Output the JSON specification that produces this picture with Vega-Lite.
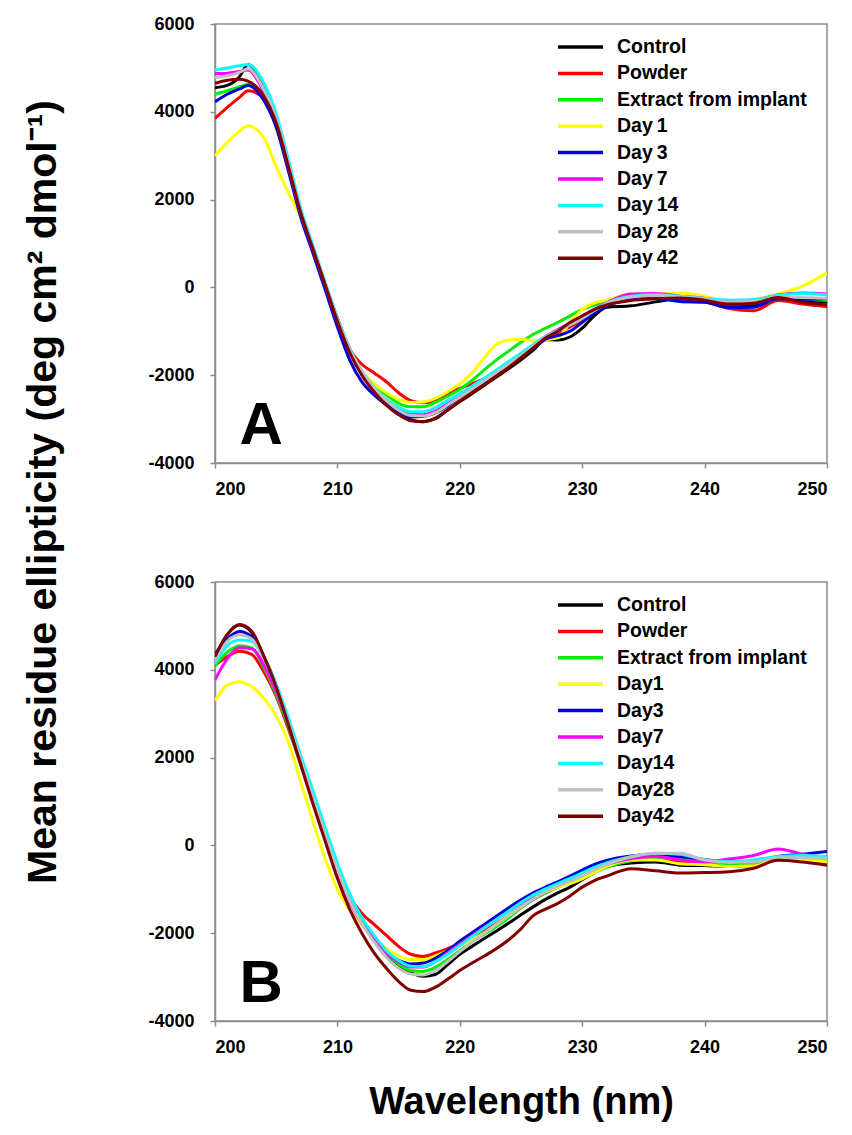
{
  "$schema": "https://vega.github.io/schema/vega-lite/v6.json",
  "padding": {"left": 23, "top": 14, "right": 20, "bottom": 10},
  "background": "white",
  "title": {"text": "Mean residue ellipticity (deg cm² dmol⁻¹)", "orient": "left", "anchor": "middle", "fontSize": 41, "fontWeight": "bold", "font": "Liberation Sans", "color": "#000000", "offset": 82, "dx": 76},
  "data": {"values": [
{"p":"A","s":"Control","w":200,"v":4550},{"p":"A","s":"Control","w":201,"v":4600},{"p":"A","s":"Control","w":202,"v":4800},{"p":"A","s":"Control","w":202.7,"v":5080},{"p":"A","s":"Control","w":204,"v":4550},{"p":"A","s":"Control","w":205,"v":3850},{"p":"A","s":"Control","w":206,"v":2800},{"p":"A","s":"Control","w":207,"v":1720},{"p":"A","s":"Control","w":208,"v":900},{"p":"A","s":"Control","w":209,"v":80},{"p":"A","s":"Control","w":210,"v":-720},{"p":"A","s":"Control","w":211,"v":-1400},{"p":"A","s":"Control","w":212,"v":-1920},{"p":"A","s":"Control","w":213,"v":-2300},{"p":"A","s":"Control","w":214,"v":-2600},{"p":"A","s":"Control","w":215,"v":-2850},{"p":"A","s":"Control","w":216,"v":-3020},{"p":"A","s":"Control","w":217,"v":-3060},{"p":"A","s":"Control","w":218,"v":-2990},{"p":"A","s":"Control","w":219,"v":-2800},{"p":"A","s":"Control","w":220,"v":-2600},{"p":"A","s":"Control","w":221,"v":-2420},{"p":"A","s":"Control","w":222,"v":-2230},{"p":"A","s":"Control","w":223,"v":-2040},{"p":"A","s":"Control","w":224,"v":-1850},{"p":"A","s":"Control","w":225,"v":-1650},{"p":"A","s":"Control","w":226,"v":-1430},{"p":"A","s":"Control","w":227,"v":-1190},{"p":"A","s":"Control","w":228,"v":-1200},{"p":"A","s":"Control","w":229,"v":-1130},{"p":"A","s":"Control","w":230,"v":-930},{"p":"A","s":"Control","w":231,"v":-640},{"p":"A","s":"Control","w":232,"v":-450},{"p":"A","s":"Control","w":234,"v":-420},{"p":"A","s":"Control","w":236,"v":-330},{"p":"A","s":"Control","w":238,"v":-260},{"p":"A","s":"Control","w":240,"v":-300},{"p":"A","s":"Control","w":242,"v":-410},{"p":"A","s":"Control","w":244,"v":-420},{"p":"A","s":"Control","w":246,"v":-260},{"p":"A","s":"Control","w":248,"v":-320},{"p":"A","s":"Control","w":250,"v":-330},
{"p":"A","s":"Powder","w":200,"v":3850},{"p":"A","s":"Powder","w":201,"v":4100},{"p":"A","s":"Powder","w":202,"v":4330},{"p":"A","s":"Powder","w":202.7,"v":4480},{"p":"A","s":"Powder","w":204,"v":4300},{"p":"A","s":"Powder","w":205,"v":3700},{"p":"A","s":"Powder","w":206,"v":2700},{"p":"A","s":"Powder","w":207,"v":1650},{"p":"A","s":"Powder","w":208,"v":850},{"p":"A","s":"Powder","w":209,"v":50},{"p":"A","s":"Powder","w":210,"v":-700},{"p":"A","s":"Powder","w":211,"v":-1400},{"p":"A","s":"Powder","w":212,"v":-1750},{"p":"A","s":"Powder","w":213,"v":-1950},{"p":"A","s":"Powder","w":214,"v":-2150},{"p":"A","s":"Powder","w":215,"v":-2400},{"p":"A","s":"Powder","w":216,"v":-2580},{"p":"A","s":"Powder","w":217,"v":-2630},{"p":"A","s":"Powder","w":218,"v":-2580},{"p":"A","s":"Powder","w":219,"v":-2420},{"p":"A","s":"Powder","w":220,"v":-2300},{"p":"A","s":"Powder","w":221,"v":-2200},{"p":"A","s":"Powder","w":222,"v":-2080},{"p":"A","s":"Powder","w":223,"v":-1920},{"p":"A","s":"Powder","w":224,"v":-1740},{"p":"A","s":"Powder","w":225,"v":-1560},{"p":"A","s":"Powder","w":226,"v":-1370},{"p":"A","s":"Powder","w":227,"v":-1180},{"p":"A","s":"Powder","w":228,"v":-1030},{"p":"A","s":"Powder","w":229,"v":-900},{"p":"A","s":"Powder","w":230,"v":-740},{"p":"A","s":"Powder","w":231,"v":-560},{"p":"A","s":"Powder","w":232,"v":-400},{"p":"A","s":"Powder","w":234,"v":-250},{"p":"A","s":"Powder","w":236,"v":-170},{"p":"A","s":"Powder","w":238,"v":-260},{"p":"A","s":"Powder","w":240,"v":-330},{"p":"A","s":"Powder","w":242,"v":-480},{"p":"A","s":"Powder","w":244,"v":-530},{"p":"A","s":"Powder","w":246,"v":-300},{"p":"A","s":"Powder","w":248,"v":-380},{"p":"A","s":"Powder","w":250,"v":-440},
{"p":"A","s":"Extract from implant","w":200,"v":4400},{"p":"A","s":"Extract from implant","w":201,"v":4480},{"p":"A","s":"Extract from implant","w":202,"v":4570},{"p":"A","s":"Extract from implant","w":202.7,"v":4620},{"p":"A","s":"Extract from implant","w":204,"v":4350},{"p":"A","s":"Extract from implant","w":205,"v":3750},{"p":"A","s":"Extract from implant","w":206,"v":2750},{"p":"A","s":"Extract from implant","w":207,"v":1700},{"p":"A","s":"Extract from implant","w":208,"v":880},{"p":"A","s":"Extract from implant","w":209,"v":60},{"p":"A","s":"Extract from implant","w":210,"v":-760},{"p":"A","s":"Extract from implant","w":211,"v":-1450},{"p":"A","s":"Extract from implant","w":212,"v":-1930},{"p":"A","s":"Extract from implant","w":213,"v":-2220},{"p":"A","s":"Extract from implant","w":214,"v":-2450},{"p":"A","s":"Extract from implant","w":215,"v":-2640},{"p":"A","s":"Extract from implant","w":216,"v":-2720},{"p":"A","s":"Extract from implant","w":217,"v":-2720},{"p":"A","s":"Extract from implant","w":218,"v":-2620},{"p":"A","s":"Extract from implant","w":219,"v":-2480},{"p":"A","s":"Extract from implant","w":220,"v":-2320},{"p":"A","s":"Extract from implant","w":221,"v":-2120},{"p":"A","s":"Extract from implant","w":222,"v":-1880},{"p":"A","s":"Extract from implant","w":223,"v":-1650},{"p":"A","s":"Extract from implant","w":224,"v":-1450},{"p":"A","s":"Extract from implant","w":225,"v":-1250},{"p":"A","s":"Extract from implant","w":226,"v":-1070},{"p":"A","s":"Extract from implant","w":227,"v":-930},{"p":"A","s":"Extract from implant","w":228,"v":-800},{"p":"A","s":"Extract from implant","w":229,"v":-650},{"p":"A","s":"Extract from implant","w":230,"v":-500},{"p":"A","s":"Extract from implant","w":231,"v":-400},{"p":"A","s":"Extract from implant","w":232,"v":-330},{"p":"A","s":"Extract from implant","w":234,"v":-200},{"p":"A","s":"Extract from implant","w":236,"v":-170},{"p":"A","s":"Extract from implant","w":238,"v":-220},{"p":"A","s":"Extract from implant","w":240,"v":-280},{"p":"A","s":"Extract from implant","w":242,"v":-380},{"p":"A","s":"Extract from implant","w":244,"v":-350},{"p":"A","s":"Extract from implant","w":246,"v":-220},{"p":"A","s":"Extract from implant","w":248,"v":-260},{"p":"A","s":"Extract from implant","w":250,"v":-300},
{"p":"A","s":"Day1","w":200,"v":3000},{"p":"A","s":"Day1","w":201,"v":3300},{"p":"A","s":"Day1","w":202,"v":3560},{"p":"A","s":"Day1","w":202.7,"v":3680},{"p":"A","s":"Day1","w":204,"v":3400},{"p":"A","s":"Day1","w":205,"v":2750},{"p":"A","s":"Day1","w":206,"v":2150},{"p":"A","s":"Day1","w":207,"v":1600},{"p":"A","s":"Day1","w":208,"v":870},{"p":"A","s":"Day1","w":209,"v":60},{"p":"A","s":"Day1","w":210,"v":-760},{"p":"A","s":"Day1","w":211,"v":-1430},{"p":"A","s":"Day1","w":212,"v":-1900},{"p":"A","s":"Day1","w":213,"v":-2200},{"p":"A","s":"Day1","w":214,"v":-2400},{"p":"A","s":"Day1","w":215,"v":-2550},{"p":"A","s":"Day1","w":216,"v":-2620},{"p":"A","s":"Day1","w":217,"v":-2610},{"p":"A","s":"Day1","w":218,"v":-2530},{"p":"A","s":"Day1","w":219,"v":-2380},{"p":"A","s":"Day1","w":220,"v":-2200},{"p":"A","s":"Day1","w":221,"v":-1950},{"p":"A","s":"Day1","w":222,"v":-1600},{"p":"A","s":"Day1","w":223,"v":-1300},{"p":"A","s":"Day1","w":224,"v":-1200},{"p":"A","s":"Day1","w":225,"v":-1180},{"p":"A","s":"Day1","w":226,"v":-1220},{"p":"A","s":"Day1","w":227,"v":-1190},{"p":"A","s":"Day1","w":228,"v":-1150},{"p":"A","s":"Day1","w":229,"v":-800},{"p":"A","s":"Day1","w":230,"v":-500},{"p":"A","s":"Day1","w":231,"v":-350},{"p":"A","s":"Day1","w":232,"v":-290},{"p":"A","s":"Day1","w":234,"v":-150},{"p":"A","s":"Day1","w":236,"v":-160},{"p":"A","s":"Day1","w":238,"v":-130},{"p":"A","s":"Day1","w":240,"v":-200},{"p":"A","s":"Day1","w":242,"v":-330},{"p":"A","s":"Day1","w":244,"v":-280},{"p":"A","s":"Day1","w":246,"v":-150},{"p":"A","s":"Day1","w":248,"v":30},{"p":"A","s":"Day1","w":250,"v":330},
{"p":"A","s":"Day3","w":200,"v":4230},{"p":"A","s":"Day3","w":201,"v":4400},{"p":"A","s":"Day3","w":202,"v":4520},{"p":"A","s":"Day3","w":202.7,"v":4600},{"p":"A","s":"Day3","w":204,"v":4250},{"p":"A","s":"Day3","w":205,"v":3650},{"p":"A","s":"Day3","w":206,"v":2650},{"p":"A","s":"Day3","w":207,"v":1600},{"p":"A","s":"Day3","w":208,"v":780},{"p":"A","s":"Day3","w":209,"v":-50},{"p":"A","s":"Day3","w":210,"v":-900},{"p":"A","s":"Day3","w":211,"v":-1650},{"p":"A","s":"Day3","w":212,"v":-2150},{"p":"A","s":"Day3","w":213,"v":-2450},{"p":"A","s":"Day3","w":214,"v":-2680},{"p":"A","s":"Day3","w":215,"v":-2870},{"p":"A","s":"Day3","w":216,"v":-2950},{"p":"A","s":"Day3","w":217,"v":-2940},{"p":"A","s":"Day3","w":218,"v":-2860},{"p":"A","s":"Day3","w":219,"v":-2700},{"p":"A","s":"Day3","w":220,"v":-2500},{"p":"A","s":"Day3","w":221,"v":-2330},{"p":"A","s":"Day3","w":222,"v":-2150},{"p":"A","s":"Day3","w":223,"v":-1960},{"p":"A","s":"Day3","w":224,"v":-1770},{"p":"A","s":"Day3","w":225,"v":-1580},{"p":"A","s":"Day3","w":226,"v":-1380},{"p":"A","s":"Day3","w":227,"v":-1180},{"p":"A","s":"Day3","w":228,"v":-1100},{"p":"A","s":"Day3","w":229,"v":-1000},{"p":"A","s":"Day3","w":230,"v":-800},{"p":"A","s":"Day3","w":231,"v":-580},{"p":"A","s":"Day3","w":232,"v":-420},{"p":"A","s":"Day3","w":234,"v":-280},{"p":"A","s":"Day3","w":236,"v":-250},{"p":"A","s":"Day3","w":238,"v":-320},{"p":"A","s":"Day3","w":240,"v":-340},{"p":"A","s":"Day3","w":242,"v":-460},{"p":"A","s":"Day3","w":244,"v":-450},{"p":"A","s":"Day3","w":246,"v":-260},{"p":"A","s":"Day3","w":248,"v":-270},{"p":"A","s":"Day3","w":250,"v":-250},
{"p":"A","s":"Day7","w":200,"v":4870},{"p":"A","s":"Day7","w":201,"v":4880},{"p":"A","s":"Day7","w":202,"v":4920},{"p":"A","s":"Day7","w":202.7,"v":4950},{"p":"A","s":"Day7","w":204,"v":4450},{"p":"A","s":"Day7","w":205,"v":3800},{"p":"A","s":"Day7","w":206,"v":2750},{"p":"A","s":"Day7","w":207,"v":1700},{"p":"A","s":"Day7","w":208,"v":880},{"p":"A","s":"Day7","w":209,"v":60},{"p":"A","s":"Day7","w":210,"v":-760},{"p":"A","s":"Day7","w":211,"v":-1450},{"p":"A","s":"Day7","w":212,"v":-1950},{"p":"A","s":"Day7","w":213,"v":-2300},{"p":"A","s":"Day7","w":214,"v":-2580},{"p":"A","s":"Day7","w":215,"v":-2780},{"p":"A","s":"Day7","w":216,"v":-2890},{"p":"A","s":"Day7","w":217,"v":-2900},{"p":"A","s":"Day7","w":218,"v":-2820},{"p":"A","s":"Day7","w":219,"v":-2650},{"p":"A","s":"Day7","w":220,"v":-2470},{"p":"A","s":"Day7","w":221,"v":-2280},{"p":"A","s":"Day7","w":222,"v":-2090},{"p":"A","s":"Day7","w":223,"v":-1900},{"p":"A","s":"Day7","w":224,"v":-1710},{"p":"A","s":"Day7","w":225,"v":-1520},{"p":"A","s":"Day7","w":226,"v":-1320},{"p":"A","s":"Day7","w":227,"v":-1120},{"p":"A","s":"Day7","w":228,"v":-960},{"p":"A","s":"Day7","w":229,"v":-820},{"p":"A","s":"Day7","w":230,"v":-680},{"p":"A","s":"Day7","w":231,"v":-500},{"p":"A","s":"Day7","w":232,"v":-350},{"p":"A","s":"Day7","w":234,"v":-150},{"p":"A","s":"Day7","w":236,"v":-140},{"p":"A","s":"Day7","w":238,"v":-200},{"p":"A","s":"Day7","w":240,"v":-250},{"p":"A","s":"Day7","w":242,"v":-330},{"p":"A","s":"Day7","w":244,"v":-300},{"p":"A","s":"Day7","w":246,"v":-170},{"p":"A","s":"Day7","w":248,"v":-130},{"p":"A","s":"Day7","w":250,"v":-150},
{"p":"A","s":"Day14","w":200,"v":4950},{"p":"A","s":"Day14","w":201,"v":5000},{"p":"A","s":"Day14","w":202,"v":5050},{"p":"A","s":"Day14","w":202.7,"v":5080},{"p":"A","s":"Day14","w":204,"v":4650},{"p":"A","s":"Day14","w":205,"v":3950},{"p":"A","s":"Day14","w":206,"v":2900},{"p":"A","s":"Day14","w":207,"v":1800},{"p":"A","s":"Day14","w":208,"v":950},{"p":"A","s":"Day14","w":209,"v":120},{"p":"A","s":"Day14","w":210,"v":-700},{"p":"A","s":"Day14","w":211,"v":-1400},{"p":"A","s":"Day14","w":212,"v":-1900},{"p":"A","s":"Day14","w":213,"v":-2280},{"p":"A","s":"Day14","w":214,"v":-2550},{"p":"A","s":"Day14","w":215,"v":-2730},{"p":"A","s":"Day14","w":216,"v":-2830},{"p":"A","s":"Day14","w":217,"v":-2830},{"p":"A","s":"Day14","w":218,"v":-2740},{"p":"A","s":"Day14","w":219,"v":-2580},{"p":"A","s":"Day14","w":220,"v":-2420},{"p":"A","s":"Day14","w":221,"v":-2250},{"p":"A","s":"Day14","w":222,"v":-2070},{"p":"A","s":"Day14","w":223,"v":-1880},{"p":"A","s":"Day14","w":224,"v":-1690},{"p":"A","s":"Day14","w":225,"v":-1500},{"p":"A","s":"Day14","w":226,"v":-1300},{"p":"A","s":"Day14","w":227,"v":-1120},{"p":"A","s":"Day14","w":228,"v":-980},{"p":"A","s":"Day14","w":229,"v":-850},{"p":"A","s":"Day14","w":230,"v":-700},{"p":"A","s":"Day14","w":231,"v":-520},{"p":"A","s":"Day14","w":232,"v":-360},{"p":"A","s":"Day14","w":234,"v":-200},{"p":"A","s":"Day14","w":236,"v":-170},{"p":"A","s":"Day14","w":238,"v":-200},{"p":"A","s":"Day14","w":240,"v":-250},{"p":"A","s":"Day14","w":242,"v":-290},{"p":"A","s":"Day14","w":244,"v":-280},{"p":"A","s":"Day14","w":246,"v":-180},{"p":"A","s":"Day14","w":248,"v":-140},{"p":"A","s":"Day14","w":250,"v":-170},
{"p":"A","s":"Day28","w":200,"v":4780},{"p":"A","s":"Day28","w":201,"v":4820},{"p":"A","s":"Day28","w":202,"v":4900},{"p":"A","s":"Day28","w":202.7,"v":4980},{"p":"A","s":"Day28","w":204,"v":4500},{"p":"A","s":"Day28","w":205,"v":3850},{"p":"A","s":"Day28","w":206,"v":2800},{"p":"A","s":"Day28","w":207,"v":1720},{"p":"A","s":"Day28","w":208,"v":900},{"p":"A","s":"Day28","w":209,"v":80},{"p":"A","s":"Day28","w":210,"v":-730},{"p":"A","s":"Day28","w":211,"v":-1420},{"p":"A","s":"Day28","w":212,"v":-1900},{"p":"A","s":"Day28","w":213,"v":-2280},{"p":"A","s":"Day28","w":214,"v":-2580},{"p":"A","s":"Day28","w":215,"v":-2800},{"p":"A","s":"Day28","w":216,"v":-2920},{"p":"A","s":"Day28","w":217,"v":-2930},{"p":"A","s":"Day28","w":218,"v":-2850},{"p":"A","s":"Day28","w":219,"v":-2680},{"p":"A","s":"Day28","w":220,"v":-2500},{"p":"A","s":"Day28","w":221,"v":-2320},{"p":"A","s":"Day28","w":222,"v":-2130},{"p":"A","s":"Day28","w":223,"v":-1940},{"p":"A","s":"Day28","w":224,"v":-1750},{"p":"A","s":"Day28","w":225,"v":-1550},{"p":"A","s":"Day28","w":226,"v":-1340},{"p":"A","s":"Day28","w":227,"v":-1140},{"p":"A","s":"Day28","w":228,"v":-990},{"p":"A","s":"Day28","w":229,"v":-850},{"p":"A","s":"Day28","w":230,"v":-700},{"p":"A","s":"Day28","w":231,"v":-520},{"p":"A","s":"Day28","w":232,"v":-370},{"p":"A","s":"Day28","w":234,"v":-220},{"p":"A","s":"Day28","w":236,"v":-180},{"p":"A","s":"Day28","w":238,"v":-220},{"p":"A","s":"Day28","w":240,"v":-260},{"p":"A","s":"Day28","w":242,"v":-330},{"p":"A","s":"Day28","w":244,"v":-320},{"p":"A","s":"Day28","w":246,"v":-220},{"p":"A","s":"Day28","w":248,"v":-230},{"p":"A","s":"Day28","w":250,"v":-250},
{"p":"A","s":"Day42","w":200,"v":4650},{"p":"A","s":"Day42","w":201,"v":4720},{"p":"A","s":"Day42","w":202,"v":4740},{"p":"A","s":"Day42","w":202.7,"v":4700},{"p":"A","s":"Day42","w":204,"v":4350},{"p":"A","s":"Day42","w":205,"v":3750},{"p":"A","s":"Day42","w":206,"v":2750},{"p":"A","s":"Day42","w":207,"v":1700},{"p":"A","s":"Day42","w":208,"v":880},{"p":"A","s":"Day42","w":209,"v":60},{"p":"A","s":"Day42","w":210,"v":-770},{"p":"A","s":"Day42","w":211,"v":-1480},{"p":"A","s":"Day42","w":212,"v":-2000},{"p":"A","s":"Day42","w":213,"v":-2380},{"p":"A","s":"Day42","w":214,"v":-2680},{"p":"A","s":"Day42","w":215,"v":-2900},{"p":"A","s":"Day42","w":216,"v":-3040},{"p":"A","s":"Day42","w":217,"v":-3060},{"p":"A","s":"Day42","w":218,"v":-2980},{"p":"A","s":"Day42","w":219,"v":-2790},{"p":"A","s":"Day42","w":220,"v":-2590},{"p":"A","s":"Day42","w":221,"v":-2400},{"p":"A","s":"Day42","w":222,"v":-2210},{"p":"A","s":"Day42","w":223,"v":-2020},{"p":"A","s":"Day42","w":224,"v":-1820},{"p":"A","s":"Day42","w":225,"v":-1600},{"p":"A","s":"Day42","w":226,"v":-1380},{"p":"A","s":"Day42","w":227,"v":-1150},{"p":"A","s":"Day42","w":228,"v":-1000},{"p":"A","s":"Day42","w":229,"v":-800},{"p":"A","s":"Day42","w":230,"v":-650},{"p":"A","s":"Day42","w":231,"v":-500},{"p":"A","s":"Day42","w":232,"v":-400},{"p":"A","s":"Day42","w":234,"v":-300},{"p":"A","s":"Day42","w":236,"v":-260},{"p":"A","s":"Day42","w":238,"v":-240},{"p":"A","s":"Day42","w":240,"v":-290},{"p":"A","s":"Day42","w":242,"v":-380},{"p":"A","s":"Day42","w":244,"v":-360},{"p":"A","s":"Day42","w":246,"v":-230},{"p":"A","s":"Day42","w":248,"v":-340},{"p":"A","s":"Day42","w":250,"v":-400},
{"p":"B","s":"Control","w":200,"v":4300},{"p":"B","s":"Control","w":201,"v":4800},{"p":"B","s":"Control","w":202,"v":5020},{"p":"B","s":"Control","w":203,"v":4850},{"p":"B","s":"Control","w":204,"v":4300},{"p":"B","s":"Control","w":205,"v":3650},{"p":"B","s":"Control","w":206,"v":2800},{"p":"B","s":"Control","w":207,"v":1900},{"p":"B","s":"Control","w":208,"v":1050},{"p":"B","s":"Control","w":209,"v":200},{"p":"B","s":"Control","w":210,"v":-580},{"p":"B","s":"Control","w":211,"v":-1220},{"p":"B","s":"Control","w":212,"v":-1720},{"p":"B","s":"Control","w":213,"v":-2120},{"p":"B","s":"Control","w":214,"v":-2470},{"p":"B","s":"Control","w":215,"v":-2720},{"p":"B","s":"Control","w":216,"v":-2900},{"p":"B","s":"Control","w":217,"v":-2980},{"p":"B","s":"Control","w":218,"v":-2940},{"p":"B","s":"Control","w":219,"v":-2720},{"p":"B","s":"Control","w":220,"v":-2480},{"p":"B","s":"Control","w":221,"v":-2300},{"p":"B","s":"Control","w":222,"v":-2120},{"p":"B","s":"Control","w":223,"v":-1950},{"p":"B","s":"Control","w":224,"v":-1770},{"p":"B","s":"Control","w":225,"v":-1580},{"p":"B","s":"Control","w":226,"v":-1400},{"p":"B","s":"Control","w":227,"v":-1230},{"p":"B","s":"Control","w":228,"v":-1080},{"p":"B","s":"Control","w":229,"v":-950},{"p":"B","s":"Control","w":230,"v":-780},{"p":"B","s":"Control","w":231,"v":-620},{"p":"B","s":"Control","w":232,"v":-480},{"p":"B","s":"Control","w":234,"v":-400},{"p":"B","s":"Control","w":236,"v":-380},{"p":"B","s":"Control","w":238,"v":-450},{"p":"B","s":"Control","w":240,"v":-460},{"p":"B","s":"Control","w":242,"v":-480},{"p":"B","s":"Control","w":244,"v":-450},{"p":"B","s":"Control","w":246,"v":-300},{"p":"B","s":"Control","w":248,"v":-330},{"p":"B","s":"Control","w":250,"v":-380},
{"p":"B","s":"Powder","w":200,"v":4100},{"p":"B","s":"Powder","w":201,"v":4300},{"p":"B","s":"Powder","w":202,"v":4420},{"p":"B","s":"Powder","w":203,"v":4350},{"p":"B","s":"Powder","w":204,"v":3950},{"p":"B","s":"Powder","w":205,"v":3400},{"p":"B","s":"Powder","w":206,"v":2650},{"p":"B","s":"Powder","w":207,"v":1850},{"p":"B","s":"Powder","w":208,"v":1050},{"p":"B","s":"Powder","w":209,"v":250},{"p":"B","s":"Powder","w":210,"v":-550},{"p":"B","s":"Powder","w":211,"v":-1150},{"p":"B","s":"Powder","w":212,"v":-1550},{"p":"B","s":"Powder","w":213,"v":-1800},{"p":"B","s":"Powder","w":214,"v":-2050},{"p":"B","s":"Powder","w":215,"v":-2300},{"p":"B","s":"Powder","w":216,"v":-2480},{"p":"B","s":"Powder","w":217,"v":-2530},{"p":"B","s":"Powder","w":218,"v":-2450},{"p":"B","s":"Powder","w":219,"v":-2350},{"p":"B","s":"Powder","w":220,"v":-2230},{"p":"B","s":"Powder","w":221,"v":-2100},{"p":"B","s":"Powder","w":222,"v":-1950},{"p":"B","s":"Powder","w":223,"v":-1780},{"p":"B","s":"Powder","w":224,"v":-1600},{"p":"B","s":"Powder","w":225,"v":-1420},{"p":"B","s":"Powder","w":226,"v":-1230},{"p":"B","s":"Powder","w":227,"v":-1080},{"p":"B","s":"Powder","w":228,"v":-950},{"p":"B","s":"Powder","w":229,"v":-850},{"p":"B","s":"Powder","w":230,"v":-720},{"p":"B","s":"Powder","w":231,"v":-600},{"p":"B","s":"Powder","w":232,"v":-470},{"p":"B","s":"Powder","w":234,"v":-350},{"p":"B","s":"Powder","w":236,"v":-300},{"p":"B","s":"Powder","w":238,"v":-380},{"p":"B","s":"Powder","w":240,"v":-430},{"p":"B","s":"Powder","w":242,"v":-440},{"p":"B","s":"Powder","w":244,"v":-420},{"p":"B","s":"Powder","w":246,"v":-290},{"p":"B","s":"Powder","w":248,"v":-330},{"p":"B","s":"Powder","w":250,"v":-400},
{"p":"B","s":"Extract from implant","w":200,"v":4100},{"p":"B","s":"Extract from implant","w":201,"v":4400},{"p":"B","s":"Extract from implant","w":202,"v":4550},{"p":"B","s":"Extract from implant","w":203,"v":4500},{"p":"B","s":"Extract from implant","w":204,"v":4050},{"p":"B","s":"Extract from implant","w":205,"v":3450},{"p":"B","s":"Extract from implant","w":206,"v":2700},{"p":"B","s":"Extract from implant","w":207,"v":1850},{"p":"B","s":"Extract from implant","w":208,"v":1050},{"p":"B","s":"Extract from implant","w":209,"v":220},{"p":"B","s":"Extract from implant","w":210,"v":-600},{"p":"B","s":"Extract from implant","w":211,"v":-1250},{"p":"B","s":"Extract from implant","w":212,"v":-1750},{"p":"B","s":"Extract from implant","w":213,"v":-2150},{"p":"B","s":"Extract from implant","w":214,"v":-2450},{"p":"B","s":"Extract from implant","w":215,"v":-2700},{"p":"B","s":"Extract from implant","w":216,"v":-2850},{"p":"B","s":"Extract from implant","w":217,"v":-2870},{"p":"B","s":"Extract from implant","w":218,"v":-2780},{"p":"B","s":"Extract from implant","w":219,"v":-2600},{"p":"B","s":"Extract from implant","w":220,"v":-2400},{"p":"B","s":"Extract from implant","w":221,"v":-2200},{"p":"B","s":"Extract from implant","w":222,"v":-2020},{"p":"B","s":"Extract from implant","w":223,"v":-1850},{"p":"B","s":"Extract from implant","w":224,"v":-1650},{"p":"B","s":"Extract from implant","w":225,"v":-1420},{"p":"B","s":"Extract from implant","w":226,"v":-1230},{"p":"B","s":"Extract from implant","w":227,"v":-1080},{"p":"B","s":"Extract from implant","w":228,"v":-950},{"p":"B","s":"Extract from implant","w":229,"v":-860},{"p":"B","s":"Extract from implant","w":230,"v":-740},{"p":"B","s":"Extract from implant","w":231,"v":-620},{"p":"B","s":"Extract from implant","w":232,"v":-500},{"p":"B","s":"Extract from implant","w":234,"v":-350},{"p":"B","s":"Extract from implant","w":236,"v":-280},{"p":"B","s":"Extract from implant","w":238,"v":-300},{"p":"B","s":"Extract from implant","w":240,"v":-380},{"p":"B","s":"Extract from implant","w":242,"v":-420},{"p":"B","s":"Extract from implant","w":244,"v":-400},{"p":"B","s":"Extract from implant","w":246,"v":-280},{"p":"B","s":"Extract from implant","w":248,"v":-300},{"p":"B","s":"Extract from implant","w":250,"v":-350},
{"p":"B","s":"Day1","w":200,"v":3300},{"p":"B","s":"Day1","w":201,"v":3650},{"p":"B","s":"Day1","w":202,"v":3730},{"p":"B","s":"Day1","w":203,"v":3620},{"p":"B","s":"Day1","w":204,"v":3350},{"p":"B","s":"Day1","w":205,"v":2950},{"p":"B","s":"Day1","w":206,"v":2350},{"p":"B","s":"Day1","w":207,"v":1450},{"p":"B","s":"Day1","w":208,"v":550},{"p":"B","s":"Day1","w":209,"v":-300},{"p":"B","s":"Day1","w":210,"v":-1000},{"p":"B","s":"Day1","w":211,"v":-1480},{"p":"B","s":"Day1","w":212,"v":-1820},{"p":"B","s":"Day1","w":213,"v":-2100},{"p":"B","s":"Day1","w":214,"v":-2350},{"p":"B","s":"Day1","w":215,"v":-2520},{"p":"B","s":"Day1","w":216,"v":-2600},{"p":"B","s":"Day1","w":217,"v":-2600},{"p":"B","s":"Day1","w":218,"v":-2520},{"p":"B","s":"Day1","w":219,"v":-2400},{"p":"B","s":"Day1","w":220,"v":-2280},{"p":"B","s":"Day1","w":221,"v":-2150},{"p":"B","s":"Day1","w":222,"v":-1990},{"p":"B","s":"Day1","w":223,"v":-1800},{"p":"B","s":"Day1","w":224,"v":-1600},{"p":"B","s":"Day1","w":225,"v":-1400},{"p":"B","s":"Day1","w":226,"v":-1200},{"p":"B","s":"Day1","w":227,"v":-1060},{"p":"B","s":"Day1","w":228,"v":-950},{"p":"B","s":"Day1","w":229,"v":-870},{"p":"B","s":"Day1","w":230,"v":-760},{"p":"B","s":"Day1","w":231,"v":-620},{"p":"B","s":"Day1","w":232,"v":-480},{"p":"B","s":"Day1","w":234,"v":-330},{"p":"B","s":"Day1","w":236,"v":-330},{"p":"B","s":"Day1","w":238,"v":-420},{"p":"B","s":"Day1","w":240,"v":-440},{"p":"B","s":"Day1","w":242,"v":-480},{"p":"B","s":"Day1","w":244,"v":-470},{"p":"B","s":"Day1","w":246,"v":-320},{"p":"B","s":"Day1","w":248,"v":-330},{"p":"B","s":"Day1","w":250,"v":-380},
{"p":"B","s":"Day3","w":200,"v":4350},{"p":"B","s":"Day3","w":201,"v":4700},{"p":"B","s":"Day3","w":202,"v":4870},{"p":"B","s":"Day3","w":203,"v":4750},{"p":"B","s":"Day3","w":204,"v":4250},{"p":"B","s":"Day3","w":205,"v":3600},{"p":"B","s":"Day3","w":206,"v":2780},{"p":"B","s":"Day3","w":207,"v":1900},{"p":"B","s":"Day3","w":208,"v":1050},{"p":"B","s":"Day3","w":209,"v":200},{"p":"B","s":"Day3","w":210,"v":-600},{"p":"B","s":"Day3","w":211,"v":-1250},{"p":"B","s":"Day3","w":212,"v":-1750},{"p":"B","s":"Day3","w":213,"v":-2150},{"p":"B","s":"Day3","w":214,"v":-2450},{"p":"B","s":"Day3","w":215,"v":-2620},{"p":"B","s":"Day3","w":216,"v":-2700},{"p":"B","s":"Day3","w":217,"v":-2680},{"p":"B","s":"Day3","w":218,"v":-2570},{"p":"B","s":"Day3","w":219,"v":-2400},{"p":"B","s":"Day3","w":220,"v":-2180},{"p":"B","s":"Day3","w":221,"v":-1990},{"p":"B","s":"Day3","w":222,"v":-1800},{"p":"B","s":"Day3","w":223,"v":-1610},{"p":"B","s":"Day3","w":224,"v":-1420},{"p":"B","s":"Day3","w":225,"v":-1240},{"p":"B","s":"Day3","w":226,"v":-1080},{"p":"B","s":"Day3","w":227,"v":-950},{"p":"B","s":"Day3","w":228,"v":-830},{"p":"B","s":"Day3","w":229,"v":-700},{"p":"B","s":"Day3","w":230,"v":-560},{"p":"B","s":"Day3","w":231,"v":-430},{"p":"B","s":"Day3","w":232,"v":-340},{"p":"B","s":"Day3","w":234,"v":-240},{"p":"B","s":"Day3","w":236,"v":-200},{"p":"B","s":"Day3","w":238,"v":-260},{"p":"B","s":"Day3","w":240,"v":-320},{"p":"B","s":"Day3","w":242,"v":-380},{"p":"B","s":"Day3","w":244,"v":-360},{"p":"B","s":"Day3","w":246,"v":-250},{"p":"B","s":"Day3","w":248,"v":-200},{"p":"B","s":"Day3","w":250,"v":-140},
{"p":"B","s":"Day7","w":200,"v":3770},{"p":"B","s":"Day7","w":201,"v":4250},{"p":"B","s":"Day7","w":202,"v":4500},{"p":"B","s":"Day7","w":203,"v":4480},{"p":"B","s":"Day7","w":204,"v":4100},{"p":"B","s":"Day7","w":205,"v":3500},{"p":"B","s":"Day7","w":206,"v":2750},{"p":"B","s":"Day7","w":207,"v":1900},{"p":"B","s":"Day7","w":208,"v":1050},{"p":"B","s":"Day7","w":209,"v":200},{"p":"B","s":"Day7","w":210,"v":-620},{"p":"B","s":"Day7","w":211,"v":-1280},{"p":"B","s":"Day7","w":212,"v":-1780},{"p":"B","s":"Day7","w":213,"v":-2150},{"p":"B","s":"Day7","w":214,"v":-2450},{"p":"B","s":"Day7","w":215,"v":-2650},{"p":"B","s":"Day7","w":216,"v":-2770},{"p":"B","s":"Day7","w":217,"v":-2770},{"p":"B","s":"Day7","w":218,"v":-2650},{"p":"B","s":"Day7","w":219,"v":-2450},{"p":"B","s":"Day7","w":220,"v":-2250},{"p":"B","s":"Day7","w":221,"v":-2060},{"p":"B","s":"Day7","w":222,"v":-1870},{"p":"B","s":"Day7","w":223,"v":-1680},{"p":"B","s":"Day7","w":224,"v":-1500},{"p":"B","s":"Day7","w":225,"v":-1330},{"p":"B","s":"Day7","w":226,"v":-1160},{"p":"B","s":"Day7","w":227,"v":-1020},{"p":"B","s":"Day7","w":228,"v":-900},{"p":"B","s":"Day7","w":229,"v":-790},{"p":"B","s":"Day7","w":230,"v":-660},{"p":"B","s":"Day7","w":231,"v":-530},{"p":"B","s":"Day7","w":232,"v":-430},{"p":"B","s":"Day7","w":234,"v":-300},{"p":"B","s":"Day7","w":236,"v":-250},{"p":"B","s":"Day7","w":238,"v":-330},{"p":"B","s":"Day7","w":240,"v":-370},{"p":"B","s":"Day7","w":242,"v":-310},{"p":"B","s":"Day7","w":244,"v":-230},{"p":"B","s":"Day7","w":246,"v":-80},{"p":"B","s":"Day7","w":248,"v":-200},{"p":"B","s":"Day7","w":250,"v":-270},
{"p":"B","s":"Day14","w":200,"v":4150},{"p":"B","s":"Day14","w":201,"v":4550},{"p":"B","s":"Day14","w":202,"v":4680},{"p":"B","s":"Day14","w":203,"v":4650},{"p":"B","s":"Day14","w":204,"v":4250},{"p":"B","s":"Day14","w":205,"v":3650},{"p":"B","s":"Day14","w":206,"v":2900},{"p":"B","s":"Day14","w":207,"v":2050},{"p":"B","s":"Day14","w":208,"v":1250},{"p":"B","s":"Day14","w":209,"v":400},{"p":"B","s":"Day14","w":210,"v":-400},{"p":"B","s":"Day14","w":211,"v":-1100},{"p":"B","s":"Day14","w":212,"v":-1650},{"p":"B","s":"Day14","w":213,"v":-2050},{"p":"B","s":"Day14","w":214,"v":-2400},{"p":"B","s":"Day14","w":215,"v":-2620},{"p":"B","s":"Day14","w":216,"v":-2750},{"p":"B","s":"Day14","w":217,"v":-2760},{"p":"B","s":"Day14","w":218,"v":-2650},{"p":"B","s":"Day14","w":219,"v":-2480},{"p":"B","s":"Day14","w":220,"v":-2280},{"p":"B","s":"Day14","w":221,"v":-2080},{"p":"B","s":"Day14","w":222,"v":-1880},{"p":"B","s":"Day14","w":223,"v":-1690},{"p":"B","s":"Day14","w":224,"v":-1500},{"p":"B","s":"Day14","w":225,"v":-1300},{"p":"B","s":"Day14","w":226,"v":-1130},{"p":"B","s":"Day14","w":227,"v":-990},{"p":"B","s":"Day14","w":228,"v":-870},{"p":"B","s":"Day14","w":229,"v":-750},{"p":"B","s":"Day14","w":230,"v":-630},{"p":"B","s":"Day14","w":231,"v":-500},{"p":"B","s":"Day14","w":232,"v":-400},{"p":"B","s":"Day14","w":234,"v":-260},{"p":"B","s":"Day14","w":236,"v":-180},{"p":"B","s":"Day14","w":238,"v":-200},{"p":"B","s":"Day14","w":240,"v":-330},{"p":"B","s":"Day14","w":242,"v":-370},{"p":"B","s":"Day14","w":244,"v":-330},{"p":"B","s":"Day14","w":246,"v":-250},{"p":"B","s":"Day14","w":248,"v":-230},{"p":"B","s":"Day14","w":250,"v":-260},
{"p":"B","s":"Day28","w":200,"v":4220},{"p":"B","s":"Day28","w":201,"v":4650},{"p":"B","s":"Day28","w":202,"v":4790},{"p":"B","s":"Day28","w":203,"v":4700},{"p":"B","s":"Day28","w":204,"v":4250},{"p":"B","s":"Day28","w":205,"v":3600},{"p":"B","s":"Day28","w":206,"v":2800},{"p":"B","s":"Day28","w":207,"v":1950},{"p":"B","s":"Day28","w":208,"v":1100},{"p":"B","s":"Day28","w":209,"v":250},{"p":"B","s":"Day28","w":210,"v":-550},{"p":"B","s":"Day28","w":211,"v":-1250},{"p":"B","s":"Day28","w":212,"v":-1780},{"p":"B","s":"Day28","w":213,"v":-2200},{"p":"B","s":"Day28","w":214,"v":-2550},{"p":"B","s":"Day28","w":215,"v":-2800},{"p":"B","s":"Day28","w":216,"v":-2930},{"p":"B","s":"Day28","w":217,"v":-2950},{"p":"B","s":"Day28","w":218,"v":-2850},{"p":"B","s":"Day28","w":219,"v":-2650},{"p":"B","s":"Day28","w":220,"v":-2420},{"p":"B","s":"Day28","w":221,"v":-2200},{"p":"B","s":"Day28","w":222,"v":-2000},{"p":"B","s":"Day28","w":223,"v":-1800},{"p":"B","s":"Day28","w":224,"v":-1600},{"p":"B","s":"Day28","w":225,"v":-1400},{"p":"B","s":"Day28","w":226,"v":-1220},{"p":"B","s":"Day28","w":227,"v":-1060},{"p":"B","s":"Day28","w":228,"v":-930},{"p":"B","s":"Day28","w":229,"v":-820},{"p":"B","s":"Day28","w":230,"v":-690},{"p":"B","s":"Day28","w":231,"v":-560},{"p":"B","s":"Day28","w":232,"v":-440},{"p":"B","s":"Day28","w":234,"v":-260},{"p":"B","s":"Day28","w":236,"v":-180},{"p":"B","s":"Day28","w":238,"v":-180},{"p":"B","s":"Day28","w":240,"v":-330},{"p":"B","s":"Day28","w":242,"v":-390},{"p":"B","s":"Day28","w":244,"v":-380},{"p":"B","s":"Day28","w":246,"v":-280},{"p":"B","s":"Day28","w":248,"v":-280},{"p":"B","s":"Day28","w":250,"v":-300},
{"p":"B","s":"Day42","w":200,"v":4300},{"p":"B","s":"Day42","w":201,"v":4800},{"p":"B","s":"Day42","w":202,"v":5030},{"p":"B","s":"Day42","w":203,"v":4880},{"p":"B","s":"Day42","w":204,"v":4300},{"p":"B","s":"Day42","w":205,"v":3600},{"p":"B","s":"Day42","w":206,"v":2750},{"p":"B","s":"Day42","w":207,"v":1850},{"p":"B","s":"Day42","w":208,"v":950},{"p":"B","s":"Day42","w":209,"v":100},{"p":"B","s":"Day42","w":210,"v":-750},{"p":"B","s":"Day42","w":211,"v":-1450},{"p":"B","s":"Day42","w":212,"v":-2000},{"p":"B","s":"Day42","w":213,"v":-2450},{"p":"B","s":"Day42","w":214,"v":-2800},{"p":"B","s":"Day42","w":215,"v":-3100},{"p":"B","s":"Day42","w":216,"v":-3300},{"p":"B","s":"Day42","w":217,"v":-3330},{"p":"B","s":"Day42","w":218,"v":-3230},{"p":"B","s":"Day42","w":219,"v":-3050},{"p":"B","s":"Day42","w":220,"v":-2850},{"p":"B","s":"Day42","w":221,"v":-2680},{"p":"B","s":"Day42","w":222,"v":-2520},{"p":"B","s":"Day42","w":223,"v":-2350},{"p":"B","s":"Day42","w":224,"v":-2150},{"p":"B","s":"Day42","w":225,"v":-1900},{"p":"B","s":"Day42","w":226,"v":-1600},{"p":"B","s":"Day42","w":227,"v":-1450},{"p":"B","s":"Day42","w":228,"v":-1320},{"p":"B","s":"Day42","w":229,"v":-1150},{"p":"B","s":"Day42","w":230,"v":-950},{"p":"B","s":"Day42","w":231,"v":-800},{"p":"B","s":"Day42","w":232,"v":-700},{"p":"B","s":"Day42","w":234,"v":-530},{"p":"B","s":"Day42","w":236,"v":-580},{"p":"B","s":"Day42","w":238,"v":-630},{"p":"B","s":"Day42","w":240,"v":-620},{"p":"B","s":"Day42","w":242,"v":-600},{"p":"B","s":"Day42","w":244,"v":-520},{"p":"B","s":"Day42","w":246,"v":-340},{"p":"B","s":"Day42","w":248,"v":-380},{"p":"B","s":"Day42","w":250,"v":-450}
  ]},
  "spacing": 73,
  "vconcat": [
    {
      "width": 612, "height": 439,
      "layer": [
        {
          "transform": [{"filter": "datum.p === 'A'"}],
          "mark": {"type": "line", "strokeWidth": 3, "interpolate": "monotone", "clip": true},
          "encoding": {
            "x": {"field": "w", "type": "quantitative", "scale": {"domain": [200, 250], "nice": false, "zero": false}, "axis": {"values": [200, 210, 220, 230, 240, 250], "title": null}},
            "y": {"field": "v", "type": "quantitative", "scale": {"domain": [-4000, 6000], "nice": false, "zero": false}, "axis": {"values": [-4000, -2000, 0, 2000, 4000, 6000], "title": null, "labelExpr": "datum.value < 0 ? '-' + abs(datum.value) : '' + datum.value"}},
            "color": {"field": "s", "type": "nominal", "sort": null,
              "scale": {"domain": ["Control", "Powder", "Extract from implant", "Day1", "Day3", "Day7", "Day14", "Day28", "Day42"], "range": ["#000000", "#ff0000", "#00ee00", "#ffff00", "#0000dd", "#ff00ff", "#00ffff", "#c0c0c0", "#800000"]},
              "legend": {"title": null, "orient": "none", "legendX": 341, "legendY": 12, "symbolType": "stroke", "symbolStrokeWidth": 3.5, "symbolSize": 2025, "clipHeight": 22, "labelFontSize": 19.5, "labelFontWeight": "bold", "labelColor": "#000000", "labelFont": "Liberation Sans", "labelOffset": 12, "labelLimit": 0, "rowPadding": 4.4, "padding": 0, "labelExpr": "replace(datum.label, 'Day', 'Day\u2009')"}}
          }
        },
        {
          "data": {"values": [{"lbl": "A"}]},
          "mark": {"type": "text", "fontSize": 60, "fontWeight": "bold", "font": "Liberation Sans", "align": "left", "baseline": "alphabetic", "color": "#000000"},
          "encoding": {"x": {"datum": 202.0}, "y": {"datum": -3560}, "text": {"field": "lbl"}}
        }
      ]
    },
    {
      "width": 612, "height": 439,
      "layer": [
        {
          "transform": [{"filter": "datum.p === 'B'"}],
          "mark": {"type": "line", "strokeWidth": 3, "interpolate": "monotone", "clip": true},
          "encoding": {
            "x": {"field": "w", "type": "quantitative", "scale": {"domain": [200, 250], "nice": false, "zero": false}, "axis": {"values": [200, 210, 220, 230, 240, 250], "title": "Wavelength (nm)", "titleFontSize": 38, "titleFontWeight": "bold", "titleFont": "Liberation Sans", "titleColor": "#000000", "titlePadding": 27}},
            "y": {"field": "v", "type": "quantitative", "scale": {"domain": [-4000, 6000], "nice": false, "zero": false}, "axis": {"values": [-4000, -2000, 0, 2000, 4000, 6000], "title": null, "labelExpr": "datum.value < 0 ? '-' + abs(datum.value) : '' + datum.value"}},
            "color": {"field": "s", "type": "nominal", "sort": null,
              "scale": {"domain": ["Control", "Powder", "Extract from implant", "Day1", "Day3", "Day7", "Day14", "Day28", "Day42"], "range": ["#000000", "#ff0000", "#00ee00", "#ffff00", "#0000dd", "#ff00ff", "#00ffff", "#c0c0c0", "#800000"]},
              "legend": {"title": null, "orient": "none", "legendX": 341, "legendY": 12, "symbolType": "stroke", "symbolStrokeWidth": 3.5, "symbolSize": 2025, "clipHeight": 22, "labelFontSize": 19.5, "labelFontWeight": "bold", "labelColor": "#000000", "labelFont": "Liberation Sans", "labelOffset": 12, "labelLimit": 0, "rowPadding": 4.4, "padding": 0}}
          }
        },
        {
          "data": {"values": [{"lbl": "B"}]},
          "mark": {"type": "text", "fontSize": 60, "fontWeight": "bold", "font": "Liberation Sans", "align": "left", "baseline": "alphabetic", "color": "#000000"},
          "encoding": {"x": {"datum": 202.0}, "y": {"datum": -3560}, "text": {"field": "lbl"}}
        }
      ]
    }
  ],
  "resolve": {"legend": {"color": "independent"}},
  "config": {
    "font": "Liberation Sans",
    "view": {"stroke": "#8c8c8c", "strokeWidth": 1.5},
    "axis": {"grid": false, "labelFont": "Liberation Sans", "labelFontSize": 18, "labelFontWeight": "bold", "labelColor": "#000000", "domainColor": "#8c8c8c", "tickColor": "#8c8c8c", "domainWidth": 1.5, "tickWidth": 1.5, "tickSize": 5},
    "axisX": {"labelPadding": 12},
    "axisY": {"labelPadding": 16}
  }
}
